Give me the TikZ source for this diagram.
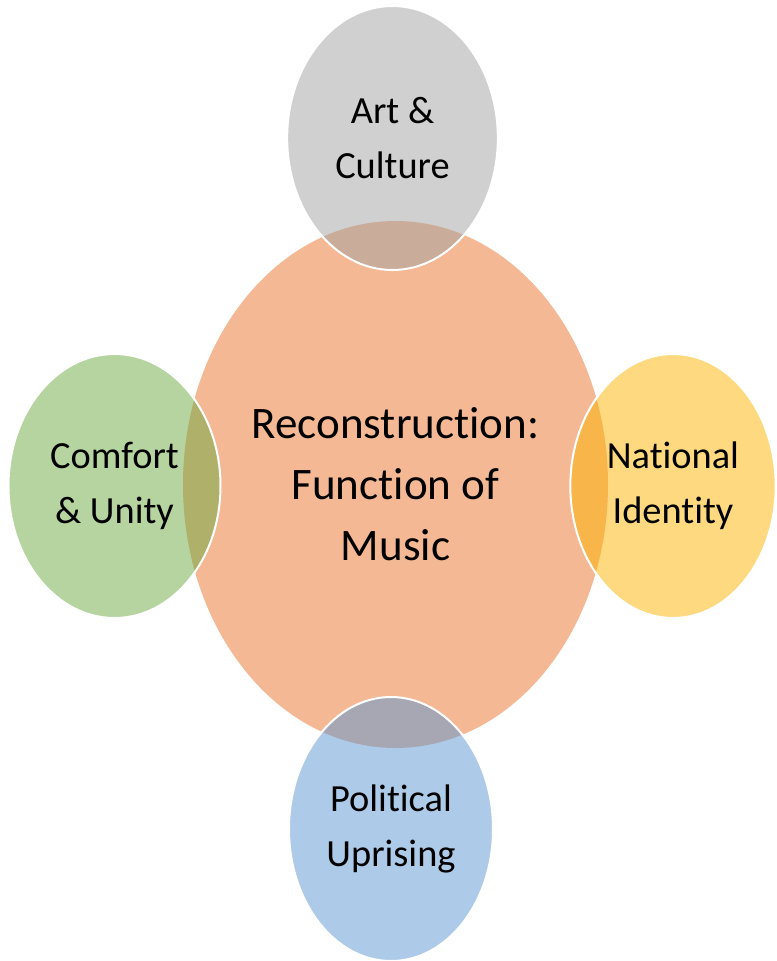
\documentclass[tikz,border=0pt]{standalone}
\usepackage{fontspec}
\setmainfont{Carlito}[Ligatures=NoCommon]
\usetikzlibrary{shapes.geometric,positioning}

\definecolor{hubfill}{RGB}{244,185,148}
\definecolor{artfill}{RGB}{161,161,161}
\definecolor{comfortfill}{RGB}{107,169,65}
\definecolor{nationalfill}{RGB}{253,179,0}
\definecolor{politicalfill}{RGB}{91,151,211}

\tikzset{
hub/.style={ellipse, fill=hubfill, inner sep=0pt, align=center,
  minimum width=318.75pt, minimum height=395.25pt,
  font=\fontsize{33.8}{45.75}\selectfont},
petal/.style={ellipse, draw=white, line width=1.5pt, fill=#1,
  fill opacity=0.5, text opacity=1, inner sep=0pt, align=center,
  minimum height=198pt, font=\fontsize{28.8}{41.25}\selectfont}
}

\begin{document}
\begin{tikzpicture}[x=0.75pt,y=-0.75pt]
\useasboundingbox (0,0) rectangle (776,961);

\coordinate (c0) at (395.5,484.5);
\coordinate (c1) at (392.5,138);
\coordinate (c2) at (114.5,486);
\coordinate (c3) at (673,486);
\coordinate (c4) at (391,829);

\node (music) at (c0) [hub] {Reconstruction:\\Function of\\Music};

\node (art) at (c1) [petal=artfill, minimum width=158pt] {Art \&\\Culture};
\node (comfort) at (c2) [petal=comfortfill, minimum width=159pt] {Comfort\\\& Unity};
\node (national) at (c3) [petal=nationalfill, minimum width=154pt] {National\\Identity};
\node (political) at (c4) [petal=politicalfill, minimum width=153pt] {Political\\Uprising};
\end{tikzpicture}
\end{document}
